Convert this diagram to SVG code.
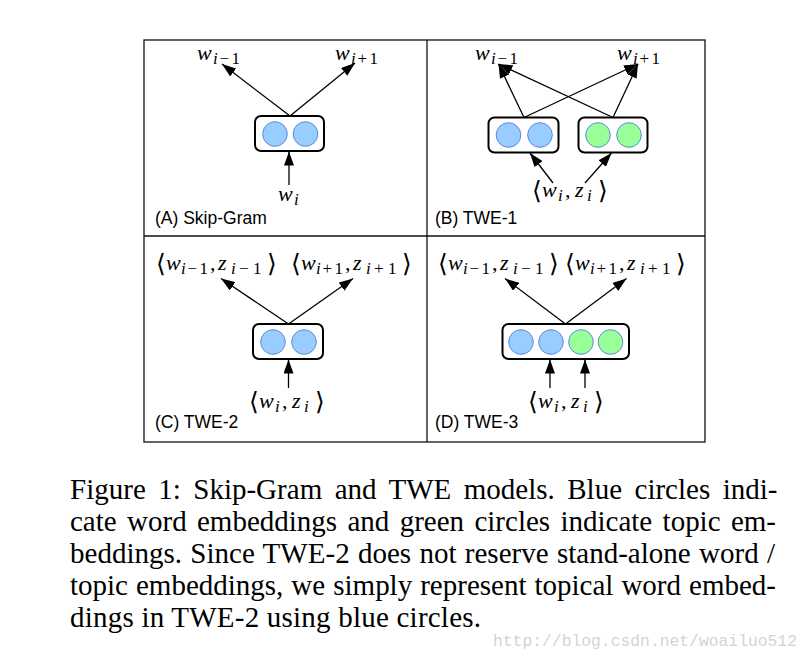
<svg xmlns="http://www.w3.org/2000/svg" width="812" height="660" viewBox="0 0 812 660">
<style>
.frame{fill:none;stroke:#111;stroke-width:1.3}
.nb{fill:#fff;stroke:#000;stroke-width:2}
.cb{fill:#99ccff;stroke:#5b8bd6;stroke-width:1}
.cg{fill:#99ff99;stroke:#5b8bd6;stroke-width:1}
.conn line{stroke:#000;stroke-width:1.3;marker-end:url(#ah)}
.m{font-family:"Liberation Serif","Times New Roman",serif;font-style:italic;font-size:22px;fill:#000}
.s{font-size:17px}
.r{font-style:normal}
.br{font-family:"DejaVu Sans","Noto Sans",sans-serif;font-style:normal;font-weight:200;font-size:25px}
.pl{font-family:"Liberation Sans",Arial,sans-serif;font-size:17.5px;fill:#000}
.cap{font-family:"Liberation Serif","Times New Roman",serif;font-size:29px;fill:#000}
.wm{font-family:"Liberation Mono","DejaVu Sans Mono",monospace;font-size:17px;fill:#d4d4d4}
</style>
<defs>
<marker id="ah" markerUnits="userSpaceOnUse" markerWidth="14" markerHeight="10" refX="14" refY="5" orient="auto">
<path d="M0,0 L14,5 L0,10 z" fill="#000"/>
</marker>
</defs>
<rect width="812" height="660" fill="#fff"/>

<g id="frame">
<rect class="frame" x="144" y="40" width="561" height="402"/>
<line class="frame" x1="427" y1="40" x2="427" y2="442"/>
<line class="frame" x1="144" y1="236" x2="705" y2="236"/>
</g>

<g id="connectors" class="conn">
<line x1="290" y1="116" x2="222" y2="64"/>
<line x1="290" y1="116" x2="355" y2="63"/>
<line x1="289" y1="185" x2="289" y2="151.5"/>
<line x1="524" y1="117.5" x2="498.5" y2="64"/>
<line x1="524" y1="117.5" x2="638" y2="64"/>
<line x1="613" y1="117.5" x2="498.5" y2="64"/>
<line x1="613" y1="117.5" x2="638" y2="64"/>
<line x1="553" y1="183" x2="530" y2="153"/>
<line x1="585" y1="183" x2="611.5" y2="153"/>
<line x1="288.5" y1="324" x2="221" y2="278.5"/>
<line x1="288.5" y1="324" x2="353" y2="278.5"/>
<line x1="288.5" y1="388" x2="288.5" y2="359.5"/>
<line x1="565.5" y1="324" x2="505" y2="278.5"/>
<line x1="565.5" y1="324" x2="626.5" y2="278.5"/>
<line x1="550" y1="388" x2="550" y2="359.5"/>
<line x1="585" y1="388" x2="585" y2="359.5"/>
</g>

<g id="nodeA">
<rect class="nb" x="255" y="116" width="69" height="35" rx="6"/>
<circle class="cb" cx="275" cy="134" r="12.3"/>
<circle class="cb" cx="305.5" cy="134" r="12.3"/>
</g>
<g id="nodeB-word">
<rect class="nb" x="488.5" y="117.5" width="70" height="35" rx="6"/>
<circle class="cb" cx="508.5" cy="135" r="12.3"/>
<circle class="cb" cx="540" cy="135" r="12.3"/>
</g>
<g id="nodeB-topic">
<rect class="nb" x="578.5" y="117.5" width="69" height="35" rx="6"/>
<circle class="cg" cx="598" cy="135" r="12.3"/>
<circle class="cg" cx="629" cy="135" r="12.3"/>
</g>
<g id="nodeC">
<rect class="nb" x="253" y="324" width="70" height="35" rx="6"/>
<circle class="cb" cx="273" cy="342" r="12.3"/>
<circle class="cb" cx="304" cy="342" r="12.3"/>
</g>
<g id="nodeD">
<rect class="nb" x="502.5" y="324" width="126.5" height="35" rx="6"/>
<circle class="cb" cx="521" cy="342" r="12.3"/>
<circle class="cb" cx="551" cy="342" r="12.3"/>
<circle class="cg" cx="581" cy="342" r="12.3"/>
<circle class="cg" cx="610.5" cy="342" r="12.3"/>
</g>

<g id="labelsA">
<text class="m" y="60"><tspan x="197">w</tspan><tspan class="s" x="213" y="64">i</tspan><tspan class="s r" x="219.5">−</tspan><tspan class="s r" x="231.5">1</tspan></text>
<text class="m" y="60"><tspan x="335">w</tspan><tspan class="s" x="351" y="64">i</tspan><tspan class="s r" x="357.5">+</tspan><tspan class="s r" x="369.5">1</tspan></text>
<text class="m" y="201"><tspan x="278">w</tspan><tspan class="s" x="294" y="205">i</tspan></text>
<text class="pl" x="155" y="224">(A) Skip-Gram</text>
</g>

<g id="labelsB">
<text class="m" y="60"><tspan x="475">w</tspan><tspan class="s" x="491" y="64">i</tspan><tspan class="s r" x="497.5">−</tspan><tspan class="s r" x="509.5">1</tspan></text>
<text class="m" y="60"><tspan x="617">w</tspan><tspan class="s" x="633" y="64">i</tspan><tspan class="s r" x="639.5">+</tspan><tspan class="s r" x="651.5">1</tspan></text>
<text class="m" y="197"><tspan class="br" x="532" y="199">⟨</tspan><tspan x="542" y="197">w</tspan><tspan class="s" x="558" y="201">i</tspan><tspan class="r" x="565" y="197">,</tspan><tspan x="575">z</tspan><tspan class="s" x="587" y="201">i</tspan><tspan class="br" x="598" y="199">⟩</tspan></text>
<text class="pl" x="435" y="224">(B) TWE-1</text>
</g>

<g id="labelsC">
<text class="m" y="270"><tspan class="br" x="156" y="272">⟨</tspan><tspan x="166" y="270">w</tspan><tspan class="s" x="181" y="274">i</tspan><tspan class="s r" x="187.5">−</tspan><tspan class="s r" x="199.5">1</tspan><tspan class="r" x="210" y="270">,</tspan><tspan x="218">z</tspan><tspan class="s" x="231" y="274">i</tspan><tspan class="s r" x="239">−</tspan><tspan class="s r" x="253">1</tspan><tspan class="br" x="267" y="272">⟩</tspan></text>
<text class="m" y="270"><tspan class="br" x="291" y="272">⟨</tspan><tspan x="301" y="270">w</tspan><tspan class="s" x="316" y="274">i</tspan><tspan class="s r" x="322.5">+</tspan><tspan class="s r" x="334.5">1</tspan><tspan class="r" x="345" y="270">,</tspan><tspan x="353">z</tspan><tspan class="s" x="366" y="274">i</tspan><tspan class="s r" x="374">+</tspan><tspan class="s r" x="388">1</tspan><tspan class="br" x="402" y="272">⟩</tspan></text>
<text class="m" y="408"><tspan class="br" x="249" y="410">⟨</tspan><tspan x="259" y="408">w</tspan><tspan class="s" x="275" y="412">i</tspan><tspan class="r" x="282" y="408">,</tspan><tspan x="292">z</tspan><tspan class="s" x="304" y="412">i</tspan><tspan class="br" x="315" y="410">⟩</tspan></text>
<text class="pl" x="155" y="428">(C) TWE-2</text>
</g>

<g id="labelsD">
<text class="m" y="270"><tspan class="br" x="438" y="272">⟨</tspan><tspan x="448" y="270">w</tspan><tspan class="s" x="463" y="274">i</tspan><tspan class="s r" x="469.5">−</tspan><tspan class="s r" x="481.5">1</tspan><tspan class="r" x="492" y="270">,</tspan><tspan x="500">z</tspan><tspan class="s" x="513" y="274">i</tspan><tspan class="s r" x="521">−</tspan><tspan class="s r" x="535">1</tspan><tspan class="br" x="549" y="272">⟩</tspan></text>
<text class="m" y="270"><tspan class="br" x="565" y="272">⟨</tspan><tspan x="575" y="270">w</tspan><tspan class="s" x="590" y="274">i</tspan><tspan class="s r" x="596.5">+</tspan><tspan class="s r" x="608.5">1</tspan><tspan class="r" x="619" y="270">,</tspan><tspan x="627">z</tspan><tspan class="s" x="640" y="274">i</tspan><tspan class="s r" x="648">+</tspan><tspan class="s r" x="662">1</tspan><tspan class="br" x="676" y="272">⟩</tspan></text>
<text class="m" y="408"><tspan class="br" x="528" y="410">⟨</tspan><tspan x="538" y="408">w</tspan><tspan class="s" x="554" y="412">i</tspan><tspan class="r" x="561" y="408">,</tspan><tspan x="571">z</tspan><tspan class="s" x="583" y="412">i</tspan><tspan class="br" x="594" y="410">⟩</tspan></text>
<text class="pl" x="435" y="428">(D) TWE-3</text>
</g>

<g id="caption">
<text class="cap" x="70" y="498.5" word-spacing="5.2" textLength="707.5" lengthAdjust="spacing">Figure 1: Skip-Gram and TWE models. Blue circles indi-</text>
<text class="cap" x="70" y="530.5" word-spacing="3.1" textLength="706" lengthAdjust="spacing">cate word embeddings and green circles indicate topic em-</text>
<text class="cap" x="70" y="562.5" word-spacing="1" textLength="705" lengthAdjust="spacing">beddings. Since TWE-2 does not reserve stand-alone word /</text>
<text class="cap" x="70" y="594.5" word-spacing="0.8" textLength="706" lengthAdjust="spacing">topic embeddings, we simply represent topical word embed-</text>
<text class="cap" x="70" y="626.5" textLength="411" lengthAdjust="spacing">dings in TWE-2 using blue circles.</text>
</g>
<text class="wm" x="493" y="645.5" textLength="304" lengthAdjust="spacingAndGlyphs">http://blog.csdn.net/woailuo512</text>
</svg>
